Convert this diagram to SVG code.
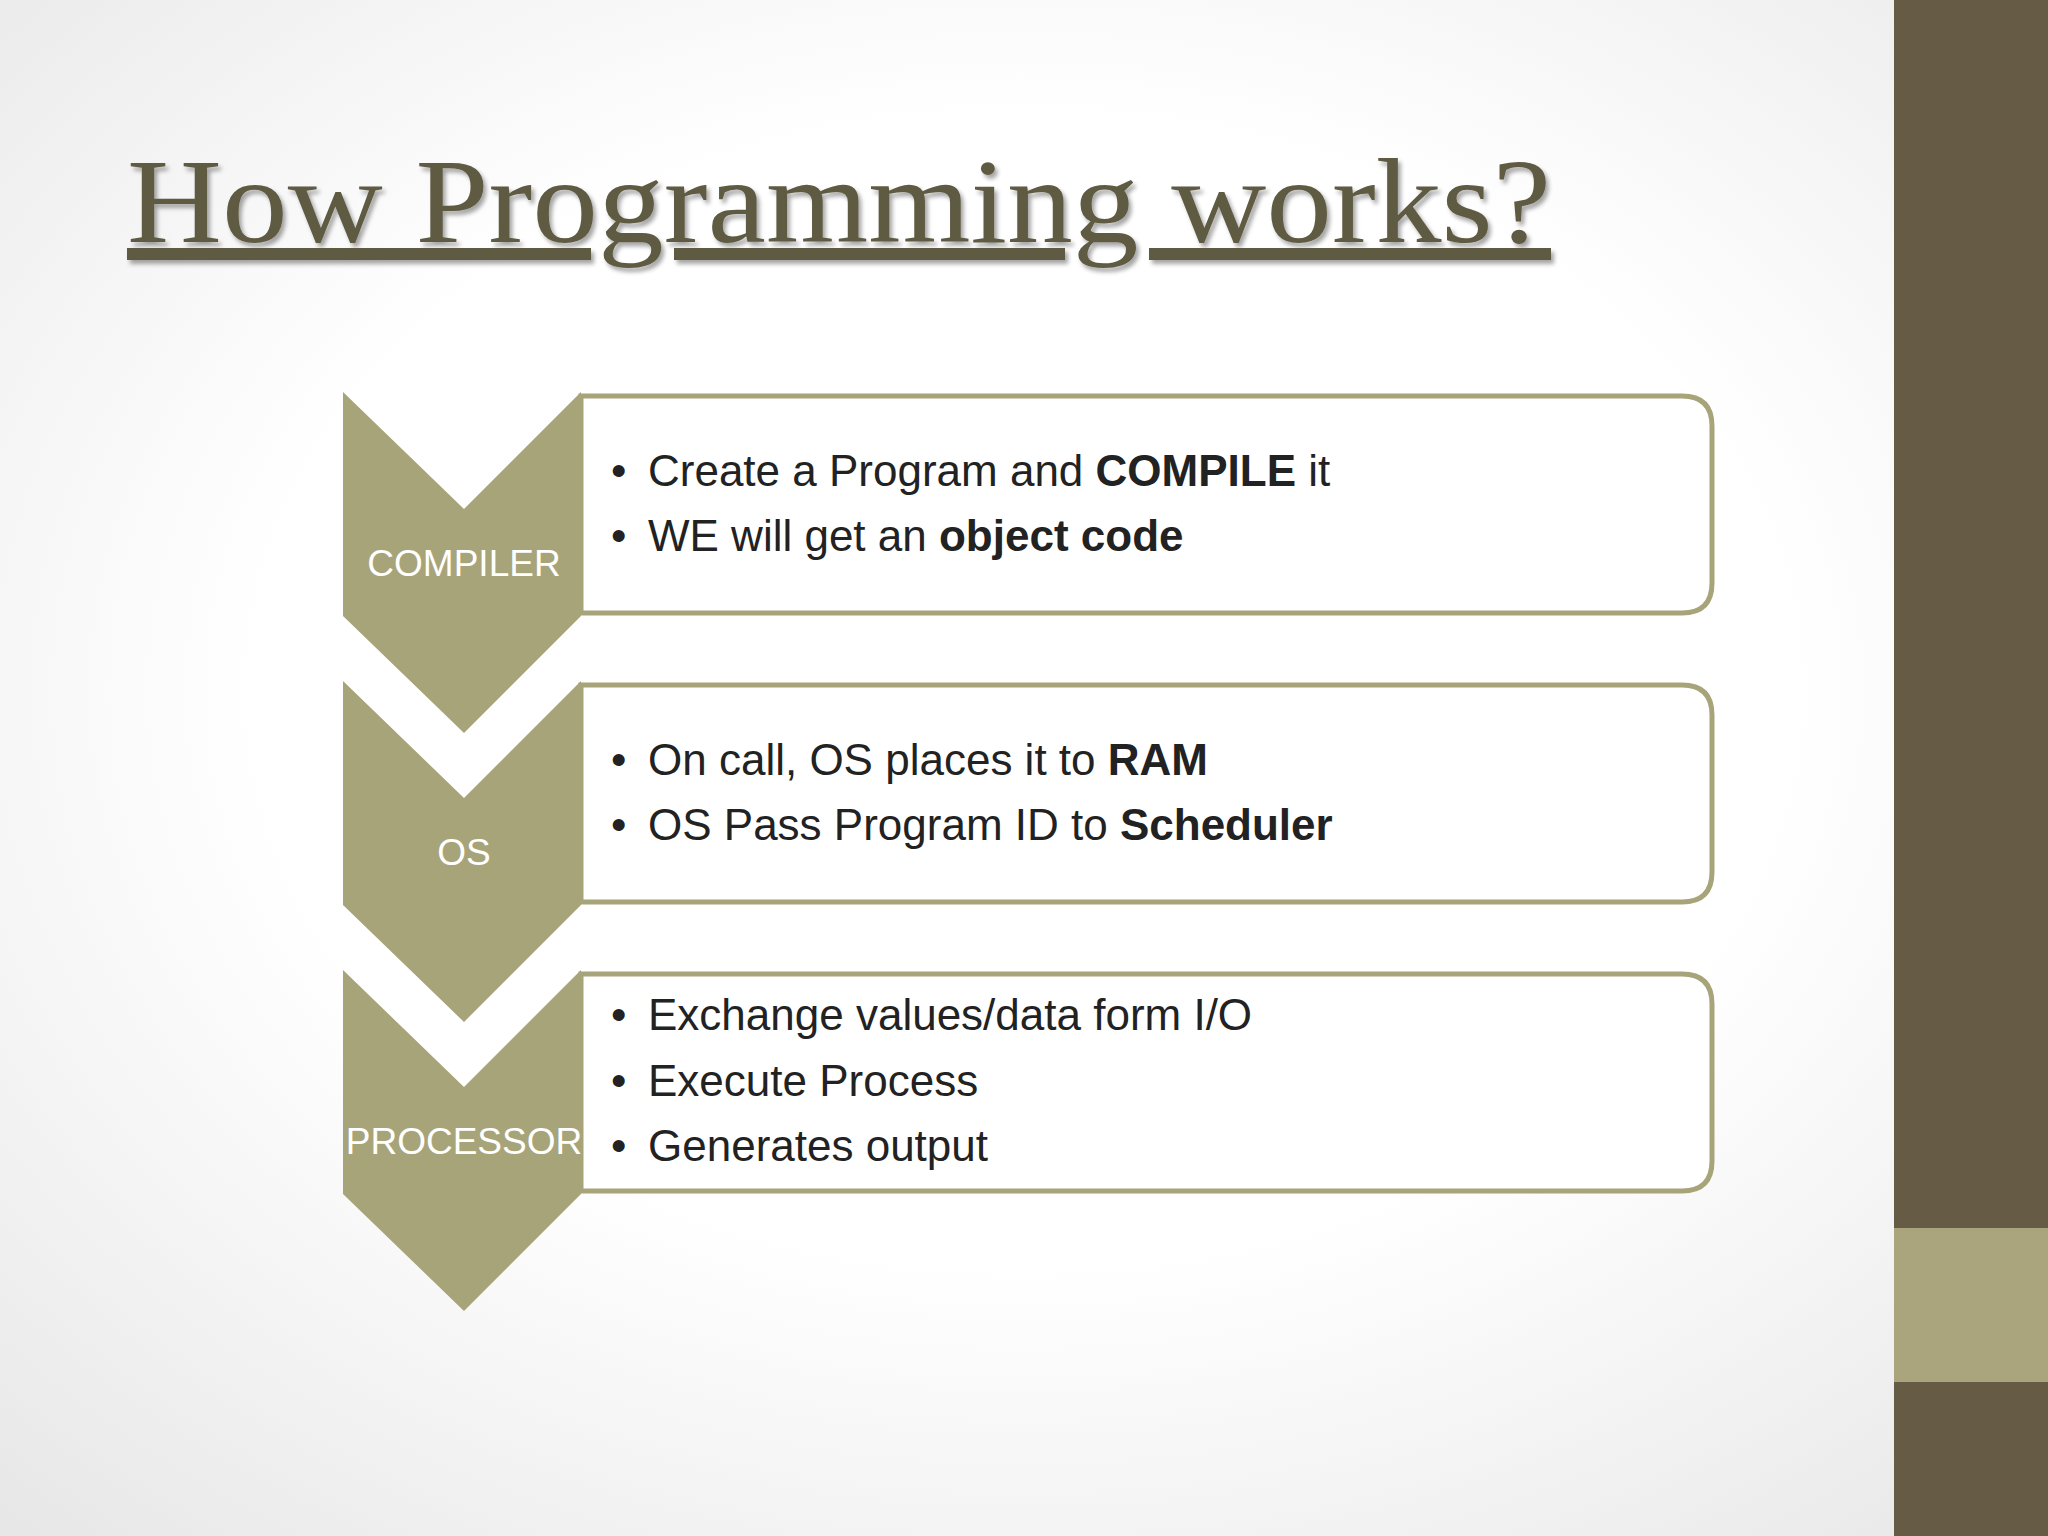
<svg xmlns="http://www.w3.org/2000/svg" width="2048" height="1536" viewBox="0 0 2048 1536">
<defs>
<radialGradient id="bg" cx="0.5" cy="0.45" r="0.75"><stop offset="0.5" stop-color="#ffffff"/><stop offset="1" stop-color="#e6e6e6"/></radialGradient>
<filter id="sh"><feDropShadow dx="3" dy="4" stdDeviation="2" flood-color="#000" flood-opacity="0.35"/></filter>
<path id="chev" d="M343,392 L464,509 L581,392 L581,616 L464,733 L343,616 Z"/>
</defs>
<style>
.ch{fill:#a8a47a}
.bx{fill:#fff;stroke:#a8a47a;stroke-width:5}
.lb{font-family:"Liberation Sans",Arial,sans-serif;font-size:37px;fill:#fff;text-anchor:middle}
.t{font-family:"Liberation Sans",Arial,sans-serif;font-size:44px;fill:#222}
.t tspan.b{font-weight:bold}
</style>
<rect width="2048" height="1536" fill="url(#bg)"/>
<rect x="1894" y="0" width="154" height="1536" fill="#665c45"/>
<rect x="1894" y="1228" width="154" height="154" fill="#aaa57c"/>
<g id="title" filter="url(#sh)">
<text x="127" y="242" font-family="Liberation Serif,serif" font-size="120" fill="#5f5a43" text-decoration="underline" textLength="1424" lengthAdjust="spacingAndGlyphs">How Programming works?</text>
</g>
<g id="connectors"></g>
<g id="step1">
<path class="bx" d="M581,396 H1682 Q1712,396 1712,426 V583 Q1712,613 1682,613 H581 Z"/>
<use href="#chev" class="ch"/>
<text class="lb" x="464" y="576">COMPILER</text>
<text class="t" x="611" y="486">•</text><text class="t" x="648" y="486">Create a Program and <tspan class="b">COMPILE</tspan> it</text>
<text class="t" x="611" y="551">•</text><text class="t" x="648" y="551">WE will get an <tspan class="b">object code</tspan></text>
</g>
<g id="step2" transform="translate(0,289)">
<path class="bx" d="M581,396 H1682 Q1712,396 1712,426 V583 Q1712,613 1682,613 H581 Z"/>
<use href="#chev" class="ch"/>
<text class="lb" x="464" y="576">OS</text>
<text class="t" x="611" y="486">•</text><text class="t" x="648" y="486">On call, OS places it to <tspan class="b">RAM</tspan></text>
<text class="t" x="611" y="551">•</text><text class="t" x="648" y="551">OS Pass Program ID to <tspan class="b">Scheduler</tspan></text>
</g>
<g id="step3" transform="translate(0,578)">
<path class="bx" d="M581,396 H1682 Q1712,396 1712,426 V583 Q1712,613 1682,613 H581 Z"/>
<use href="#chev" class="ch"/>
<text class="lb" x="464" y="576">PROCESSOR</text>
<text class="t" x="611" y="452">•</text><text class="t" x="648" y="452">Exchange values/data form I/O</text>
<text class="t" x="611" y="518">•</text><text class="t" x="648" y="518">Execute Process</text>
<text class="t" x="611" y="583">•</text><text class="t" x="648" y="583">Generates output</text>
</g>
</svg>
